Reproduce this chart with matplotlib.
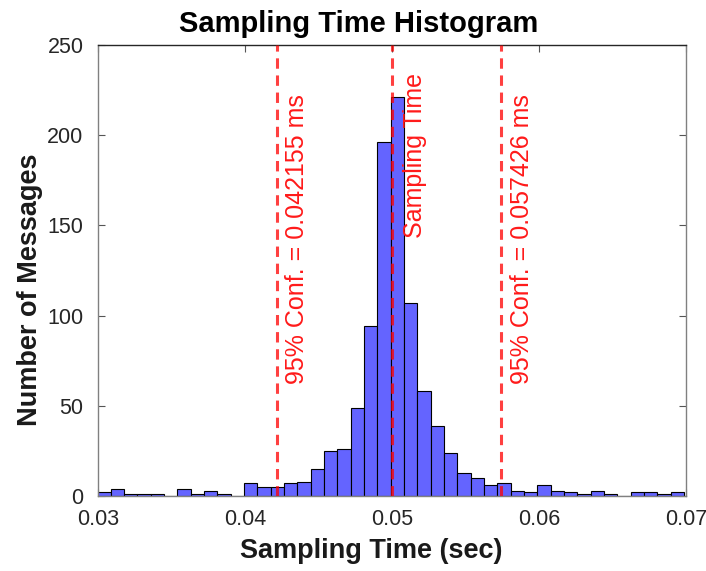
import numpy as np
import matplotlib
matplotlib.use("Agg")
import matplotlib.pyplot as plt

# ---- data ----
bin_start = 0.02995
bin_width = 0.000907
counts = [2, 4, 1, 1, 1, 0, 4, 1, 3, 1, 0, 7, 5, 5, 7, 8, 15, 25, 26, 49, 94,
          196, 221, 107, 58, 39, 24, 13, 10, 6, 7, 3, 2, 6, 3, 2, 1, 3, 1, 0,
          2, 2, 1, 2]
conf_low = 0.042155
conf_high = 0.057426
sampling_time = 0.05
conf_labels = ["95% Conf. = 0.042155 ms", "95% Conf. = 0.057426 ms"]
sampling_label = "Sampling Time"
xticks = [0.03, 0.04, 0.05, 0.06, 0.07]
xticklabels = ["0.03", "0.04", "0.05", "0.06", "0.07"]
yticks = [0, 50, 100, 150, 200, 250]

plt.rcParams['font.family'] = ['Liberation Sans', 'DejaVu Sans']

W, H = 706, 571
fig = plt.figure(figsize=(W/100, H/100), dpi=100)
ax = fig.add_axes([98/W, 1-496/H, 588/W, 451/H])

edges = bin_start + bin_width*np.arange(len(counts))
ax.bar(edges, counts, width=bin_width, align='edge', color='#6464FF',
       edgecolor='black', linewidth=0.8, zorder=2)

line_kw = dict(color='red', alpha=0.75, lw=2.2, dashes=(3.4, 2.2), zorder=3)
for xv in (conf_low, sampling_time, conf_high):
    ax.axvline(xv, **line_kw)

txt_kw = dict(color='#FF1A1A', fontsize=18, rotation=90, ha='center',
              va='bottom', zorder=4)
ax.text(conf_low + 0.00140, 62.0, conf_labels[0], **txt_kw)
ax.text(conf_high + 0.00140, 62.0, conf_labels[1], **txt_kw)
ax.text(sampling_time + 0.00155, 143.0, sampling_label, **txt_kw)

ax.set_xlim(0.03, 0.07)
ax.set_ylim(0, 250)
ax.set_xticks(xticks)
ax.set_xticklabels(xticklabels)
ax.set_yticks(yticks)
ax.tick_params(direction='in', length=5, width=0.8, colors='#555555',
               labelcolor='#262626', labelsize=15.5, top=True, right=True)
ax.tick_params(axis='x', pad=9.5)
ax.tick_params(axis='y', pad=10.5)
for side in ('left', 'right', 'bottom'):
    ax.spines[side].set_color('#808080')
    ax.spines[side].set_linewidth(1.0)
ax.spines['top'].set_color('#262626')
ax.spines['top'].set_linewidth(1.0)

fig.text(371/W, 1-551/H, "Sampling Time (sec)", fontsize=19.5,
         fontweight='bold', ha='center', va='center', color='#1a1a1a')
fig.text(30/W, 1-290/H, "Number of Messages", fontsize=19.5,
         fontweight='bold', ha='center', va='center', rotation=90,
         color='#1a1a1a')
fig.text(359/W, 1-32/H, "Sampling Time Histogram", fontsize=21,
         fontweight='bold', ha='center', va='baseline', color='black')

fig.savefig("out.png", dpi=100)
